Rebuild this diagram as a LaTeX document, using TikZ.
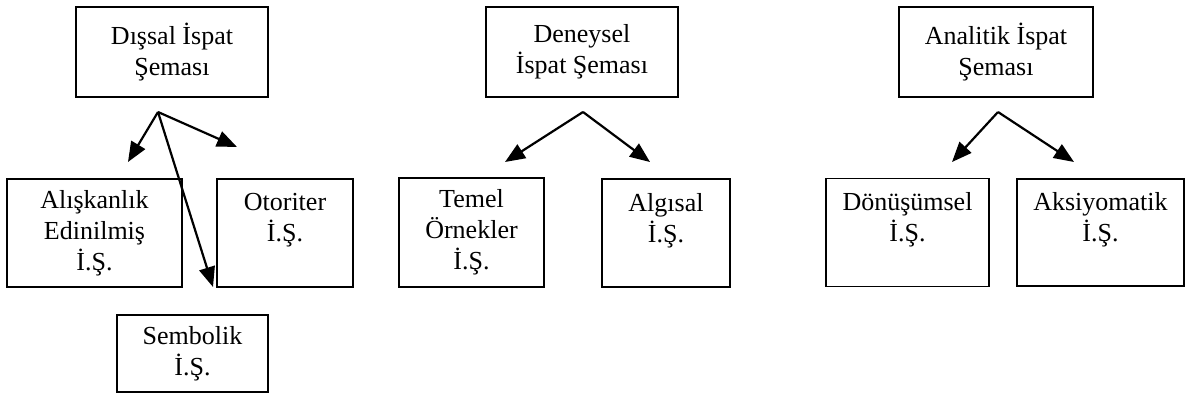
\documentclass[tikz,border=0pt]{standalone}
\usepackage{fontspec}
\setmainfont{Liberation Serif}
\usetikzlibrary{arrows.meta}
\tikzstyle{schema} = [rectangle, draw=black, line width=0.8pt, inner sep=0pt, text centered, align=center, font=\fontsize{13}{15.5}\selectfont]
\tikzstyle{arrow} = [line width=1.1pt, -{Triangle[length=10pt,width=8pt]}]

\begin{document}
\begin{tikzpicture}[x=0.5pt, y=-0.5pt]
\useasboundingbox (0,0) rectangle (1188,401);

% Top schemas
\node (dis) [schema, minimum width=96pt, minimum height=45pt] at (172,52) {Dışsal İspat\\Şeması};
\node (den) [schema, minimum width=96pt, minimum height=45pt] at (582,52) {Deneysel\\İspat Şeması};
\node (ana) [schema, minimum width=97pt, minimum height=45pt] at (996,52) {Analitik İspat\\Şeması};

% External proof schemes
\node (alis) [schema, minimum width=87.5pt, minimum height=54pt] at (94.5,233) {Alışkanlık\\Edinilmiş\\İ.Ş.};
\node (oto) [schema, minimum width=68pt, minimum height=54pt] at (285,233) {Otoriter\\İ.Ş.\\~};
\node (sem) [schema, minimum width=75.5pt, minimum height=38.5pt] at (192.5,353.5) {Sembolik\\İ.Ş.};

% Empirical proof schemes
\node (tem) [schema, minimum width=72.5pt, minimum height=54.5pt] at (471.5,232.5) {Temel\\Örnekler\\İ.Ş.};
\node (alg) [schema, minimum width=64pt, minimum height=54pt] at (666,233) {Algısal\\İ.Ş.\\~};

% Analytic proof schemes
\node (don) [schema, minimum width=81.5pt, minimum height=54pt] at (907.5,232.5) {Dönüşümsel\\İ.Ş.\\~};
\node (aks) [schema, minimum width=83.5pt, minimum height=53.5pt] at (1100.5,232.5) {Aksiyomatik\\İ.Ş.\\~};

% Arrow ends
\coordinate (disfork) at (158,112);
\coordinate (disleft) at (128,162);
\coordinate (disright) at (237,147);
\coordinate (dislong) at (213,287);
\coordinate (denfork) at (583,112);
\coordinate (denleft) at (505,162);
\coordinate (denright) at (650,162);
\coordinate (anafork) at (998,112);
\coordinate (analeft) at (952,162);
\coordinate (anaright) at (1074,162);

% Arrows
\draw [arrow] (disfork) -- (disleft);
\draw [arrow] (disfork) -- (disright);
\draw [arrow] (disfork) -- (dislong);
\draw [arrow] (denfork) -- (denleft);
\draw [arrow] (denfork) -- (denright);
\draw [arrow] (anafork) -- (analeft);
\draw [arrow] (anafork) -- (anaright);

\end{tikzpicture}
\end{document}
